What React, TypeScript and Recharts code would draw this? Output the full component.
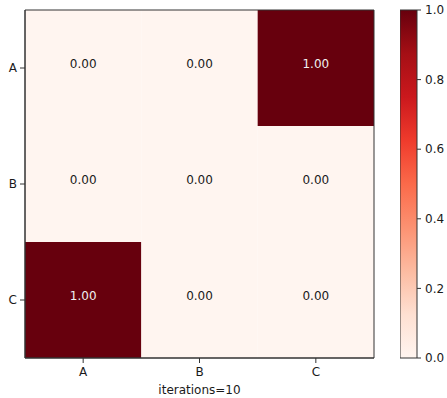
import React from 'react';
import { ComposedChart, XAxis, YAxis, ReferenceArea } from 'recharts';

const rowLabels = ['A', 'B', 'C'];
const colLabels = ['A', 'B', 'C'];
const matrixValues = [
  [0, 0, 1],
  [0, 0, 0],
  [1, 0, 0],
];
const colorbarTicks = [0, 0.2, 0.4, 0.6, 0.8, 1.0];
const xAxisTitle = 'iterations=10';

const redsStops = ['#fff5f0', '#fee0d2', '#fcbba1', '#fc9272', '#fb6a4a', '#ef3b2c', '#cb181d', '#a50f15', '#67000d'];

const hexToRgb = (h: string) => [parseInt(h.slice(1, 3), 16), parseInt(h.slice(3, 5), 16), parseInt(h.slice(5, 7), 16)];
const reds = (v: number) => {
  const t = Math.max(0, Math.min(1, v)) * (redsStops.length - 1);
  const i = Math.min(Math.floor(t), redsStops.length - 2);
  const f = t - i;
  const a = hexToRgb(redsStops[i]);
  const b = hexToRgb(redsStops[i + 1]);
  const c = a.map((x, k) => Math.round(x + (b[k] - x) * f));
  return `rgb(${c[0]},${c[1]},${c[2]})`;
};

const cells = matrixValues.flatMap((row, r) => row.map((v, c) => ({ r, c, v, x: c + 0.5, y: r + 0.5 })));

const FONT = 'DejaVu Sans';
const TXT = '#1a1a1a';
const EDGE = '#333';

export default function App() {
  return (
    <div style={{ position: 'absolute', left: 0, top: 0, width: 447, height: 398, background: '#fff' }}>
      <div style={{ position: 'absolute', left: 0, top: 0 }}>
        <ComposedChart width={390} height={398} data={cells} margin={{ top: 10, right: 16, left: 0, bottom: 0 }}>
          <XAxis
            type="number"
            dataKey="x"
            domain={[0, 3]}
            ticks={[0.5, 1.5, 2.5]}
            tickFormatter={(v: number) => colLabels[Math.floor(v)]}
            height={40}
            tickSize={5}
            tickMargin={4}
            stroke={EDGE}
            tick={{ fill: TXT, fontSize: 12, fontFamily: FONT }}
            allowDataOverflow
            label={{ value: xAxisTitle, position: 'insideBottom', offset: 4, fill: TXT, fontSize: 12, fontFamily: FONT }}
          />
          <YAxis
            type="number"
            dataKey="y"
            domain={[0, 3]}
            reversed
            ticks={[0.5, 1.5, 2.5]}
            tickFormatter={(v: number) => rowLabels[Math.floor(v)]}
            width={25}
            tickSize={5}
            tickMargin={3}
            stroke={EDGE}
            tick={{ fill: TXT, fontSize: 12, fontFamily: FONT }}
            allowDataOverflow
          />
          {cells.map((cell) => (
            <ReferenceArea
              key={`${cell.r}-${cell.c}`}
              x1={cell.c}
              x2={cell.c + 1}
              y1={cell.r}
              y2={cell.r + 1}
              fill={reds(cell.v)}
              fillOpacity={1}
              stroke="none"
              ifOverflow="visible"
              label={{
                value: cell.v.toFixed(2),
                position: 'center',
                dy: -4,
                fill: cell.v > 0.5 ? '#f0f0f0' : TXT,
                fontSize: 12,
                fontFamily: FONT,
              }}
            />
          ))}
          <ReferenceArea x1={0} x2={3} y1={0} y2={3} fill="none" stroke={EDGE} strokeWidth={1} ifOverflow="visible" />
        </ComposedChart>
      </div>
      <div style={{ position: 'absolute', left: 400, top: 0 }}>
        <ComposedChart width={47} height={398} data={[{ x: 0, y: 0 }, { x: 1, y: 1 }]} margin={{ top: 10, right: 0, left: 0, bottom: 40 }}>
          <defs>
            <linearGradient id="redsGrad" x1="0" y1="1" x2="0" y2="0">
              {redsStops.map((c, i) => (
                <stop key={i} offset={i / (redsStops.length - 1)} stopColor={c} />
              ))}
            </linearGradient>
          </defs>
          <XAxis type="number" dataKey="x" domain={[0, 1]} hide />
          <YAxis
            type="number"
            dataKey="y"
            orientation="right"
            domain={[0, 1]}
            ticks={colorbarTicks}
            tickFormatter={(v: number) => v.toFixed(1)}
            width={30}
            tickSize={4}
            tickMargin={4}
            axisLine={false}
            stroke={EDGE}
            tick={{ fill: TXT, fontSize: 12, fontFamily: FONT, textAnchor: 'start' }}
          />
          <ReferenceArea x1={0} x2={1} y1={0} y2={1} fill="url(#redsGrad)" fillOpacity={1} stroke={EDGE} strokeWidth={1} ifOverflow="visible" />
        </ComposedChart>
      </div>
    </div>
  );
}
